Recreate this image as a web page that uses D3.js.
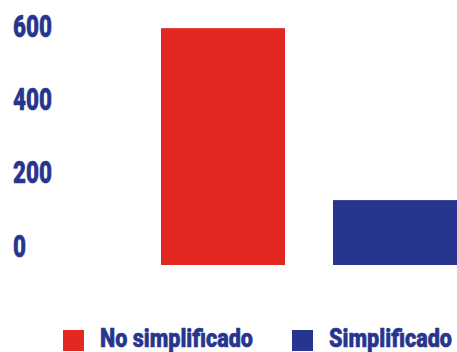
<!DOCTYPE html>
<html>
<head>
<meta charset="utf-8">
<script src="https://cdn.jsdelivr.net/npm/d3@7"></script>
<style>
  html, body { margin: 0; padding: 0; background: #fff; }
  text { font-family: Roboto, "Liberation Sans", sans-serif; font-weight: 900; fill: #28358f; stroke: #28358f; stroke-width: 0.5px; }
</style>
</head>
<body>
<div id="chart"></div>
<script>
const categories = ['No simplificado', 'Simplificado']
const values = [646, 177]
const tickValues = [0, 200, 400, 600]
const colors = ['#e32822', '#28358f']

const width = 457, height = 352

const svg = d3.select('#chart')
    .append('svg')
    .attr('width', width)
    .attr('height', height)

// bars sit on y=265, axis labels are drawn a bit higher than their ticks
const y = d3.scaleLinear()
    .domain([0, 600])
    .range([265, 45])

const x = d3.scaleBand()
    .domain(categories)
    .range([161, 457])
    .paddingInner(0.279)
    .paddingOuter(0)

const color = d3.scaleOrdinal()
    .domain(categories)
    .range(colors)

svg.selectAll('rect.bar')
    .data(categories)
    .enter()
    .append('rect')
    .attr('class', 'bar')
    .attr('x', d => x(d))
    .attr('y', (d, i) => y(values[i]))
    .attr('width', x.bandwidth())
    .attr('height', (d, i) => y(0) - y(values[i]))
    .style('fill', d => color(d))

// y axis: labels only
const yAxis = svg.append('g')
    .attr('transform', 'translate(13,0)')
    .call(d3.axisLeft(y).tickValues(tickValues).tickSize(0).tickPadding(0))

yAxis.select('.domain').remove()
yAxis.selectAll('text')
    .attr('text-anchor', 'start')
    .attr('x', 0)
    .attr('dy', -9)
    .attr('fill', null)
    .attr('textLength', d => String(d).length * 13)
    .attr('lengthAdjust', 'spacingAndGlyphs')
    .style('font-size', '32px')
    .style('font-family', null)

// legend
const legendX = [63, 292]
const legendW = [153, 123]
const legend = svg.selectAll('g.legend')
    .data(categories)
    .enter()
    .append('g')
    .attr('class', 'legend')
    .attr('transform', (d, i) => `translate(${legendX[i]},330)`)

legend.append('rect')
    .attr('width', 21)
    .attr('height', 21)
    .style('fill', d => color(d))

legend.append('text')
    .attr('x', 37)
    .attr('y', 17)
    .attr('textLength', (d, i) => legendW[i])
    .attr('lengthAdjust', 'spacingAndGlyphs')
    .style('font-size', '25px')
    .text(d => d)
</script>
</body>
</html>
